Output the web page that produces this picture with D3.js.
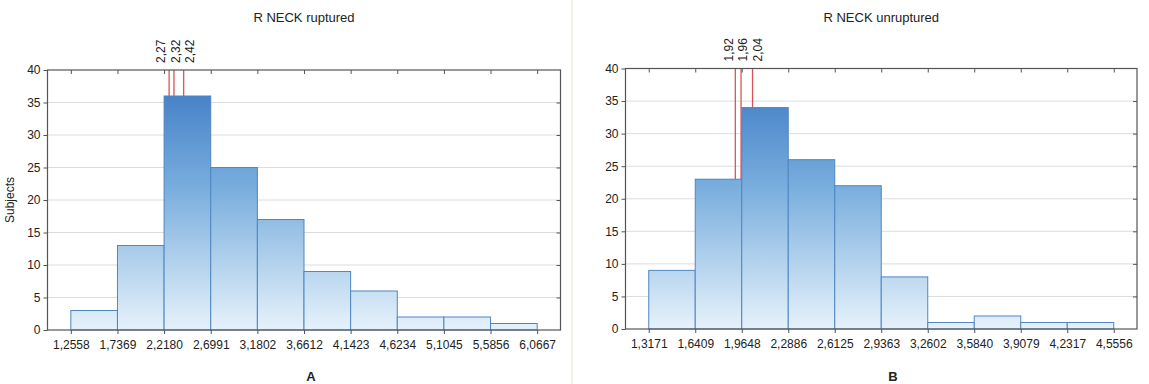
<!DOCTYPE html>
<html>
<head>
<meta charset="utf-8">
<script src="https://cdn.jsdelivr.net/npm/d3@7"></script>
<style>
  html, body { margin: 0; padding: 0; background: #fff; }
  svg { display: block; font-family: "Liberation Sans", Arial, sans-serif; }
</style>
</head>
<body>
<svg id="chart" width="1149" height="384"></svg>
<script>
// Histogram bin edges (also the x tick labels) and counts per bin
const edgesA  = [1.2558, 1.7369, 2.2180, 2.6991, 3.1802, 3.6612, 4.1423, 4.6234, 5.1045, 5.5856, 6.0667];
const countsA = [3, 13, 36, 25, 17, 9, 6, 2, 2, 1];
const markersA = [2.27, 2.32, 2.42];

const edgesB  = [1.3171, 1.6409, 1.9648, 2.2886, 2.6125, 2.9363, 3.2602, 3.5840, 3.9079, 4.2317, 4.5556];
const countsB = [9, 23, 34, 26, 22, 8, 1, 2, 1, 1];
const markersB = [1.92, 1.96, 2.04];

const yTicks = [0, 5, 10, 15, 20, 25, 30, 35, 40];
const titles = ["R NECK ruptured", "R NECK unruptured"];
const panelLetters = ["A", "B"];
const yLabel = "Subjects";

const svg = d3.select("#chart");
const fmt = v => d3.format(".4f")(v).replace(".", ",");
const fmt2 = v => d3.format(".2f")(v).replace(".", ",");

const defs = svg.append("defs");

// faint panel separator
svg.append("line")
  .attr("x1", 572).attr("x2", 572).attr("y1", 0).attr("y2", 384)
  .attr("stroke", "#f3f1ea").attr("stroke-width", 2);

const panels = [
  { edges: edgesA, counts: countsA, markers: markersA, title: titles[0], letter: panelLetters[0],
    left: 47.5, right: 560.5, top: 70, bottom: 330, letterX: 311, yLabel: true },
  { edges: edgesB, counts: countsB, markers: markersB, title: titles[1], letter: panelLetters[1],
    left: 625.5, right: 1137, top: 68.5, bottom: 329, letterX: 893, yLabel: false }
];

panels.forEach((p, pi) => {
  const w = p.edges[1] - p.edges[0];
  const x = d3.scaleLinear()
    .domain([p.edges[0] - w / 2, p.edges[p.edges.length - 1] + w / 2])
    .range([p.left, p.right]);
  const y = d3.scaleLinear().domain([0, 40]).range([p.bottom, p.top]);

  // vertical gradient tied to the value axis
  const gid = "barGrad" + pi;
  const grad = defs.append("linearGradient")
    .attr("id", gid).attr("gradientUnits", "userSpaceOnUse")
    .attr("x1", 0).attr("x2", 0).attr("y1", y(40)).attr("y2", y(0));
  grad.append("stop").attr("offset", "0%").attr("stop-color", "#3a77c2");
  grad.append("stop").attr("offset", "45%").attr("stop-color", "#78addd");
  grad.append("stop").attr("offset", "100%").attr("stop-color", "#e6f2fb");

  const g = svg.append("g");

  // horizontal grid
  g.append("g").selectAll("line")
    .data(yTicks.filter(t => t > 0 && t < 40))
    .join("line")
    .attr("x1", p.left).attr("x2", p.right)
    .attr("y1", d => y(d)).attr("y2", d => y(d))
    .attr("stroke", "#dcdcdc").attr("stroke-width", 1);

  // bars
  g.append("g").selectAll("rect")
    .data(p.counts)
    .join("rect")
    .attr("x", (d, i) => x(p.edges[i]))
    .attr("width", (d, i) => x(p.edges[i + 1]) - x(p.edges[i]))
    .attr("y", d => y(d))
    .attr("height", d => y(0) - y(d))
    .attr("fill", `url(#${gid})`)
    .attr("stroke", "#4f86c4").attr("stroke-width", 1);

  // marker lines from the top of the frame down to the bar height
  const binHeight = v => {
    const i = d3.bisectRight(p.edges, v) - 1;
    return p.counts[Math.max(0, Math.min(p.counts.length - 1, i))];
  };
  g.append("g").selectAll("line")
    .data(p.markers)
    .join("line")
    .attr("x1", d => x(d)).attr("x2", d => x(d))
    .attr("y1", p.top).attr("y2", d => y(binHeight(d)))
    .attr("stroke", "#d9545a").attr("stroke-width", 1.3);

  // marker labels, spread apart so they do not collide
  const mx = p.markers.map(x);
  const mean = d3.mean(mx);
  const gap = 14.5;
  const labelX = p.markers.map((d, i) => mean + (i - (p.markers.length - 1) / 2) * gap);
  g.append("g").selectAll("text")
    .data(p.markers)
    .join("text")
    .attr("transform", (d, i) => `translate(${labelX[i] + 4.2},${p.top - 7}) rotate(-90)`)
    .attr("font-size", 12).attr("fill", "#222")
    .text(d => fmt2(d));

  // y axis (left, outward ticks)
  const yAxis = d3.axisLeft(y).tickValues(yTicks).tickSize(4).tickPadding(3).tickFormat(d3.format("d"));
  const ya = g.append("g").attr("transform", `translate(${p.left},0)`).call(yAxis);
  ya.select(".domain").remove();
  ya.selectAll("text").attr("font-size", 12).attr("fill", "#222").attr("font-family", null);
  ya.selectAll("line").attr("stroke", "#555");

  // right ticks (inward)
  const yr = g.append("g").attr("transform", `translate(${p.right},0)`)
    .call(d3.axisLeft(y).tickValues(yTicks.filter(t => t > 0 && t < 40)).tickSize(4).tickFormat(""));
  yr.select(".domain").remove();
  yr.selectAll("line").attr("stroke", "#555");

  // x axis (bottom, bin edges)
  const xAxis = d3.axisBottom(x).tickValues(p.edges).tickSize(4).tickPadding(6).tickFormat(fmt);
  const xa = g.append("g").attr("transform", `translate(0,${p.bottom})`).call(xAxis);
  xa.select(".domain").remove();
  xa.selectAll("text").attr("font-size", 12).attr("fill", "#222").attr("font-family", null);
  xa.selectAll("line").attr("stroke", "#555");

  // top ticks (inward)
  const xt = g.append("g").attr("transform", `translate(0,${p.top})`)
    .call(d3.axisBottom(x).tickValues(p.edges).tickSize(4).tickFormat(""));
  xt.select(".domain").remove();
  xt.selectAll("line").attr("stroke", "#555");

  // frame
  g.append("rect")
    .attr("x", p.left).attr("y", p.top)
    .attr("width", p.right - p.left).attr("height", p.bottom - p.top)
    .attr("fill", "none").attr("stroke", "#555").attr("stroke-width", 1.2);

  // title
  g.append("text")
    .attr("x", (p.left + p.right) / 2).attr("y", 22)
    .attr("text-anchor", "middle").attr("font-size", 13).attr("fill", "#222")
    .text(p.title);

  // panel letter
  g.append("text")
    .attr("x", p.letterX).attr("y", 381)
    .attr("text-anchor", "middle").attr("font-size", 13).attr("font-weight", "bold").attr("fill", "#222")
    .text(p.letter);

  if (p.yLabel) {
    g.append("text")
      .attr("transform", `translate(14,${(p.top + p.bottom) / 2}) rotate(-90)`)
      .attr("text-anchor", "middle").attr("font-size", 12).attr("fill", "#222")
      .text(yLabel);
  }
});
</script>
</body>
</html>
